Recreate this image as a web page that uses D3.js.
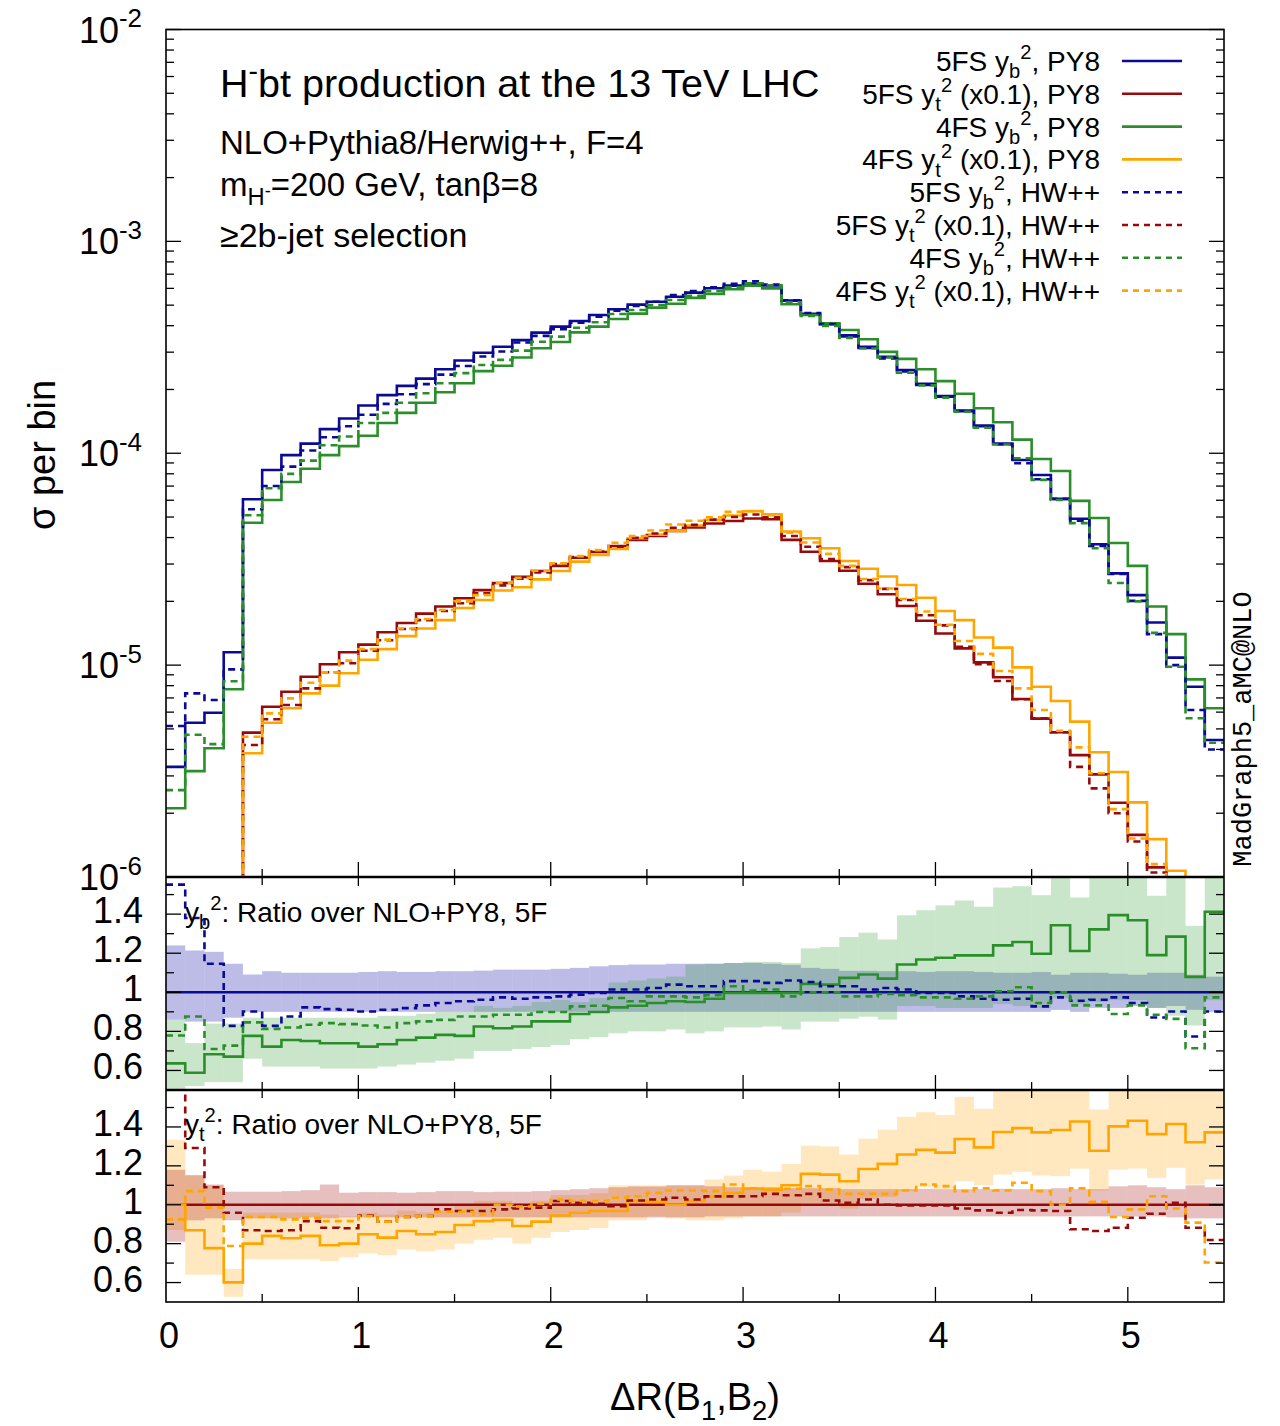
<!DOCTYPE html>
<html><head><meta charset="utf-8">
<script src="https://cdn.jsdelivr.net/npm/d3@7"></script>
<style>
body{margin:0;background:#fff}
svg{display:block}
text{font-family:"Liberation Sans",Arial,Helvetica,sans-serif;fill:#000}
</style></head>
<body><svg id="chart" width="1280" height="1426"></svg>
<script>
// ---------------- DATA ----------------
const binEdges = d3.range(56).map(i => +(i * 0.1).toFixed(1)); // ΔR bins 0..5.5

// main panel: sigma per bin
const main_5F_yb_PY8 = [3.31e-6,5.35e-6,5.96e-6,1.15e-5,6.07e-5,8.34e-5,9.8e-5,1.11e-4,1.30e-4,1.46e-4,1.68e-4,1.88e-4,2.08e-4,2.25e-4,2.49e-4,2.74e-4,2.98e-4,3.18e-4,3.42e-4,3.71e-4,3.96e-4,4.21e-4,4.49e-4,4.78e-4,5.03e-4,5.19e-4,5.48e-4,5.73e-4,6.01e-4,6.18e-4,6.32e-4,6.05e-4,5.25e-4,4.55e-4,4.08e-4,3.6e-4,3.18e-4,2.85e-4,2.47e-4,2.13e-4,1.86e-4,1.59e-4,1.35e-4,1.11e-4,9.3e-5,7.9e-5,6.09e-5,4.91e-5,3.72e-5,2.71e-5,2.14e-5,1.59e-5,1.085e-5,7.91e-6,4.43e-6];
const main_5F_yt_PY8 = [4e-7,5e-7,5e-7,6e-7,4.80e-6,6.36e-6,7.49e-6,8.82e-6,1.01e-5,1.15e-5,1.25e-5,1.43e-5,1.58e-5,1.75e-5,1.89e-5,2.07e-5,2.26e-5,2.44e-5,2.61e-5,2.78e-5,2.94e-5,3.21e-5,3.42e-5,3.65e-5,3.90e-5,4.07e-5,4.30e-5,4.47e-5,4.66e-5,4.79e-5,4.92e-5,4.88e-5,3.90e-5,3.43e-5,3.10e-5,2.79e-5,2.42e-5,2.16e-5,1.90e-5,1.62e-5,1.41e-5,1.20e-5,1.03e-5,8.76e-6,6.92e-6,5.59e-6,4.82e-6,3.76e-6,3.05e-6,2.24e-6,1.58e-6,1.11e-6,8e-7,6e-7,5e-7];
const main_4F_yb_PY8 = [2.11e-6,3.16e-6,4.05e-6,7.69e-6,4.70e-5,6.02e-5,7.32e-5,8.45e-5,9.8e-5,1.08e-4,1.21e-4,1.39e-4,1.55e-4,1.73e-4,1.94e-4,2.14e-4,2.44e-4,2.59e-4,2.83e-4,3.13e-4,3.35e-4,3.72e-4,3.96e-4,4.30e-4,4.56e-4,4.87e-4,5.08e-4,5.41e-4,5.65e-4,5.94e-4,6.18e-4,6.0e-4,5.05e-4,4.49e-4,4.1e-4,3.82e-4,3.45e-4,3.01e-4,2.79e-4,2.49e-4,2.19e-4,1.91e-4,1.63e-4,1.40e-4,1.16e-4,9.40e-5,8.25e-5,5.96e-5,4.95e-5,3.77e-5,2.94e-5,1.89e-5,1.40e-5,8.57e-6,6.26e-6];
const main_4F_yt_PY8 = [4e-7,5e-7,4e-7,3e-7,3.84e-6,5.35e-6,6.26e-6,7.36e-6,8.0e-6,9.15e-6,1.06e-5,1.19e-5,1.37e-5,1.49e-5,1.63e-5,1.86e-5,2.03e-5,2.25e-5,2.33e-5,2.54e-5,2.78e-5,3.08e-5,3.31e-5,3.53e-5,3.97e-5,4.13e-5,4.30e-5,4.56e-5,4.85e-5,5.08e-5,5.32e-5,5.15e-5,4.27e-5,3.97e-5,3.56e-5,3.10e-5,2.85e-5,2.62e-5,2.39e-5,2.08e-5,1.80e-5,1.63e-5,1.35e-5,1.21e-5,9.76e-6,7.91e-6,6.77e-6,5.41e-6,3.88e-6,3.13e-6,2.25e-6,1.51e-6,1.07e-6,7e-7,5e-7];
const main_5F_yb_HW = [5.16e-6,7.36e-6,6.85e-6,9.55e-6,5.44e-5,7.01e-5,8.65e-5,1.03e-4,1.19e-4,1.34e-4,1.52e-4,1.71e-4,1.90e-4,2.12e-4,2.35e-4,2.58e-4,2.86e-4,3.02e-4,3.33e-4,3.58e-4,3.85e-4,4.13e-4,4.41e-4,4.71e-4,4.96e-4,5.19e-4,5.58e-4,5.83e-4,6.07e-4,6.30e-4,6.48e-4,6.25e-4,5.27e-4,4.59e-4,4.07e-4,3.56e-4,3.14e-4,2.80e-4,2.43e-4,2.10e-4,1.85e-4,1.58e-4,1.34e-4,1.10e-4,8.97e-5,7.54e-5,6.09e-5,4.81e-5,3.65e-5,2.69e-5,2.01e-5,1.40e-5,1.0e-5,6.14e-6,4.0e-6];
const main_5F_yt_HW = [8e-7,7e-7,6e-7,5e-7,4.2e-6,5.55e-6,6.48e-6,7.77e-6,9.25e-6,1.02e-5,1.17e-5,1.31e-5,1.48e-5,1.63e-5,1.80e-5,1.96e-5,2.18e-5,2.38e-5,2.56e-5,2.74e-5,3.0e-5,3.24e-5,3.44e-5,3.62e-5,3.99e-5,4.18e-5,4.45e-5,4.59e-5,4.86e-5,5.0e-5,5.14e-5,4.99e-5,4.07e-5,3.62e-5,3.17e-5,2.90e-5,2.52e-5,2.29e-5,2.03e-5,1.72e-5,1.54e-5,1.22e-5,1.01e-5,8.41e-6,6.90e-6,5.61e-6,4.82e-6,3.31e-6,2.62e-6,2.0e-6,1.47e-6,1.05e-6,7e-7,5e-7,4e-7];
const main_4F_yb_HW = [2.57e-6,4.69e-6,4.24e-6,8.39e-6,5.10e-5,6.84e-5,7.99e-5,9.23e-5,1.09e-4,1.20e-4,1.39e-4,1.55e-4,1.73e-4,1.92e-4,2.14e-4,2.39e-4,2.61e-4,2.76e-4,3.05e-4,3.36e-4,3.55e-4,3.91e-4,4.15e-4,4.54e-4,4.74e-4,5.01e-4,5.29e-4,5.53e-4,5.83e-4,6.07e-4,6.34e-4,6.21e-4,5.16e-4,4.45e-4,3.99e-4,3.50e-4,3.12e-4,2.83e-4,2.40e-4,2.09e-4,1.83e-4,1.57e-4,1.32e-4,1.10e-4,9.47e-5,7.49e-5,6.02e-5,4.68e-5,3.56e-5,2.44e-5,2.0e-5,1.42e-5,9.83e-6,5.61e-6,4.30e-6];
const main_4F_yt_HW = [4e-7,5e-7,5e-7,5e-7,4.59e-6,5.92e-6,6.97e-6,8.26e-6,9.25e-6,1.05e-5,1.19e-5,1.32e-5,1.49e-5,1.65e-5,1.82e-5,2.0e-5,2.14e-5,2.44e-5,2.58e-5,2.79e-5,3.02e-5,3.27e-5,3.49e-5,3.78e-5,4.07e-5,4.32e-5,4.61e-5,4.80e-5,4.99e-5,5.29e-5,5.33e-5,5.1e-5,4.22e-5,3.79e-5,3.35e-5,2.94e-5,2.55e-5,2.30e-5,2.05e-5,1.79e-5,1.55e-5,1.30e-5,1.13e-5,9.38e-6,7.77e-6,6.14e-6,4.90e-6,4.09e-6,3.09e-6,2.09e-6,1.52e-6,1.15e-6,8e-7,6e-7,4e-7];

// ratio panel 1 (y_b^2), over NLO+PY8 5F
const ratioRef = binEdges.slice(1).map(() => 1);
const r_yb_4F_PY8 = [0.636,0.588,0.683,0.671,0.777,0.722,0.756,0.751,0.739,0.739,0.722,0.734,0.756,0.768,0.782,0.777,0.825,0.816,0.825,0.851,0.851,0.889,0.899,0.923,0.931,0.945,0.954,0.95,0.967,0.997,0.997,0.997,0.997,1.043,1.039,1.074,1.091,1.07,1.142,1.168,1.177,1.189,1.189,1.24,1.257,1.197,1.343,1.211,1.322,1.395,1.369,1.19,1.285,1.079,1.412];
const r_yb_5F_HW = [1.551,1.38,1.146,0.828,0.902,0.828,0.876,0.923,0.914,0.911,0.902,0.911,0.919,0.933,0.945,0.954,0.962,0.974,0.967,0.974,0.979,0.988,0.997,1.014,1.014,1.022,1.039,1.031,1.031,1.057,1.057,1.048,1.06,1.053,1.031,1.031,1.014,1.022,1.014,0.997,0.997,0.979,0.967,0.962,0.967,0.928,0.974,0.957,0.962,0.974,0.945,0.871,0.902,0.774,0.902];
const r_yb_4F_HW = [0.779,0.876,0.71,0.727,0.846,0.813,0.82,0.834,0.842,0.837,0.83,0.82,0.842,0.851,0.859,0.876,0.876,0.885,0.885,0.899,0.899,0.928,0.931,0.971,0.954,0.979,0.979,0.974,0.985,1.031,1.009,1.014,0.979,1.0,1.0,0.979,0.979,0.991,0.985,0.974,0.974,0.967,0.979,1.005,1.026,0.945,1.0,0.933,0.933,0.889,0.933,0.885,0.864,0.714,0.974];
const band_yb_5F_hi = [1.24,1.214,1.207,1.146,1.091,1.108,1.1,1.1,1.1,1.1,1.104,1.108,1.104,1.104,1.108,1.108,1.111,1.116,1.116,1.116,1.12,1.125,1.133,1.139,1.142,1.142,1.146,1.146,1.146,1.15,1.15,1.146,1.14,1.125,1.12,1.11,1.11,1.108,1.108,1.104,1.108,1.108,1.104,1.1,1.1,1.104,1.09,1.1,1.1,1.095,1.09,1.1,1.1,1.09,1.08];
const band_yb_5F_lo = [0.86,0.85,0.85,0.87,0.9,0.9,0.9,0.9,0.9,0.9,0.9,0.9,0.9,0.9,0.9,0.9,0.9,0.9,0.9,0.9,0.9,0.9,0.9,0.9,0.9,0.9,0.9,0.9,0.9,0.9,0.9,0.9,0.9,0.9,0.9,0.9,0.9,0.9,0.9,0.9,0.9,0.9,0.9,0.9,0.9,0.9,0.91,0.9,0.92,0.92,0.93,0.92,0.93,0.91,0.9];
const band_yb_4F_hi = [0.86,0.74,0.84,0.84,0.87,0.87,0.87,0.87,0.87,0.87,0.87,0.88,0.88,0.89,0.9,0.9,0.93,0.92,0.93,0.95,0.96,0.95,0.97,1.05,1.06,1.07,1.08,1.142,1.146,1.15,1.156,1.156,1.15,1.225,1.232,1.283,1.305,1.27,1.394,1.42,1.445,1.47,1.438,1.536,1.543,1.497,1.7,1.485,1.7,1.7,1.7,1.494,1.7,1.34,1.7];
const band_yb_4F_lo = [0.5,0.52,0.54,0.54,0.66,0.62,0.62,0.62,0.61,0.61,0.61,0.62,0.63,0.64,0.65,0.66,0.7,0.7,0.71,0.72,0.73,0.76,0.77,0.79,0.8,0.8,0.81,0.79,0.8,0.82,0.82,0.825,0.81,0.85,0.85,0.865,0.875,0.86,0.93,0.93,0.92,0.92,0.92,0.94,0.93,0.92,0.97,0.94,0.95,0.96,0.96,0.92,0.88,0.83,0.96];

// ratio panel 2 (y_t^2), over NLO+PY8 5F
const r_yt_4F_PY8 = [1.0,0.869,0.777,0.601,0.80,0.84,0.828,0.84,0.792,0.80,0.848,0.831,0.865,0.848,0.86,0.896,0.916,0.922,0.891,0.913,0.945,0.959,0.968,0.968,1.019,1.015,1.0,1.02,1.041,1.061,1.082,1.078,1.10,1.159,1.155,1.121,1.184,1.21,1.258,1.282,1.268,1.338,1.295,1.374,1.394,1.372,1.384,1.428,1.278,1.403,1.432,1.363,1.415,1.321,1.372];
const r_yt_5F_HW = [1.9,1.292,1.09,0.959,0.869,0.865,0.869,0.916,0.882,0.879,0.945,0.913,0.937,0.942,0.976,0.968,0.968,0.976,0.981,0.985,1.019,1.01,1.005,0.993,1.022,1.027,1.036,1.027,1.043,1.043,1.044,1.056,1.049,1.056,1.022,1.01,1.027,1.0,0.997,0.997,0.997,0.981,0.971,0.959,0.973,0.971,0.968,0.874,0.865,0.882,0.933,0.954,1.01,0.882,0.819];
const r_yt_4F_HW = [0.925,1.07,0.985,0.788,0.937,0.937,0.925,0.933,0.916,0.916,0.942,0.913,0.937,0.942,0.964,0.964,0.95,1.0,0.991,1.005,1.027,1.019,1.019,1.036,1.044,1.061,1.073,1.073,1.07,1.104,1.084,1.078,1.082,1.096,1.078,1.056,1.056,1.056,1.073,1.104,1.096,1.07,1.084,1.073,1.113,1.07,1.0,1.084,1.015,0.937,0.976,1.044,0.981,0.908,0.703];
const band_yt_5F_hi = [1.18,1.152,1.104,1.067,1.067,1.067,1.07,1.075,1.104,1.062,1.065,1.065,1.062,1.065,1.07,1.07,1.065,1.067,1.067,1.07,1.075,1.08,1.085,1.09,1.094,1.094,1.1,1.1,1.095,1.09,1.09,1.09,1.085,1.085,1.085,1.08,1.08,1.08,1.08,1.082,1.08,1.08,1.08,1.082,1.08,1.08,1.085,1.08,1.08,1.095,1.1,1.09,1.08,1.1,1.09];
const band_yt_5F_lo = [0.81,0.92,0.93,0.92,0.93,0.93,0.93,0.935,0.93,0.935,0.935,0.935,0.935,0.935,0.935,0.935,0.935,0.935,0.935,0.935,0.935,0.935,0.935,0.935,0.935,0.935,0.935,0.935,0.94,0.94,0.94,0.94,0.94,0.94,0.94,0.94,0.94,0.94,0.94,0.94,0.94,0.94,0.94,0.94,0.94,0.94,0.94,0.94,0.94,0.94,0.94,0.94,0.935,0.93,0.93];
const band_yt_4F_hi = [1.334,1.152,1.1,0.67,0.96,0.96,0.96,0.96,0.95,0.94,0.96,0.95,0.97,0.96,0.97,1.0,1.02,1.02,1.0,1.02,1.05,1.05,1.06,1.1,1.1,1.1,1.1,1.1,1.13,1.15,1.18,1.17,1.21,1.304,1.3,1.258,1.34,1.386,1.452,1.476,1.462,1.555,1.493,1.7,1.7,1.7,1.7,1.7,1.49,1.7,1.7,1.7,1.7,1.7,1.7];
const band_yt_4F_lo = [0.87,0.64,0.64,0.527,0.72,0.72,0.72,0.72,0.71,0.73,0.75,0.74,0.77,0.76,0.77,0.8,0.82,0.83,0.8,0.83,0.86,0.87,0.88,0.92,0.92,0.94,0.93,0.92,0.92,0.93,0.94,0.94,0.96,1.01,1.01,0.98,1.03,1.04,1.07,1.09,1.08,1.12,1.1,1.155,1.169,1.15,1.147,1.186,1.073,1.18,1.186,1.138,1.19,1.104,1.13];

// tick labels
const xTickLabels = ["0","1","2","3","4","5"];
const yMainTickLabels = ["-6","-5","-4","-3","-2"];
const ratioTickLabels = ["0.6","0.8","1","1.2","1.4"];

// ---------------- STYLE ----------------
const C = {blue:"#0a0a96", red:"#980a0a", green:"#2a8f2a", orange:"#ffa500"};
const LW = 2.6, DASH = "7,5";

// ---------------- SCALES ----------------
const svg = d3.select("#chart");
const L = 166, R = 1224;
const x = d3.scaleLinear().domain([0, 5.5]).range([L, R]);
const yMain = d3.scaleLog().domain([1e-6, 1e-2]).range([877, 29.5]);
const yR1 = d3.scaleLinear().domain([0.5, 1.59]).range([1090, 877]);
const yR2 = d3.scaleLinear().domain([0.5, 1.59]).range([1302, 1090]);

const defs = svg.append("defs");
function clip(id, y0, y1) {
  defs.append("clipPath").attr("id", id).append("rect")
    .attr("x", L).attr("y", y0).attr("width", R - L).attr("height", y1 - y0);
}
clip("cm", 29.5, 877); clip("c1", 877, 1090); clip("c2", 1090, 1302);

function stepPts(vals) {
  const p = vals.map((v, i) => [binEdges[i], v]);
  p.push([binEdges[binEdges.length - 1], vals[vals.length - 1]]);
  return p;
}
function drawStep(g, vals, y, color, dashed) {
  const line = d3.line().x(d => x(d[0])).y(d => y(d[1])).curve(d3.curveStepAfter);
  g.append("path").attr("d", line(stepPts(vals))).attr("fill", "none")
    .attr("stroke", color).attr("stroke-width", LW)
    .attr("stroke-dasharray", dashed ? DASH : null);
}
function drawBand(g, lo, hi, y, color, op) {
  g.append("g").selectAll("rect").data(lo).join("rect")
    .attr("x", (d, i) => x(binEdges[i]))
    .attr("width", (d, i) => x(binEdges[i + 1]) - x(binEdges[i]))
    .attr("y", (d, i) => y(hi[i]))
    .attr("height", (d, i) => y(lo[i]) - y(hi[i]))
    .attr("fill", color).attr("fill-opacity", op);
}

// ---------------- BANDS & LINES ----------------
const g1 = svg.append("g").attr("clip-path", "url(#c1)");
drawBand(g1, band_yb_5F_lo, band_yb_5F_hi, yR1, "#2020b0", 0.3);
drawBand(g1, band_yb_4F_lo, band_yb_4F_hi, yR1, "#2a9a2a", 0.25);
drawStep(g1, ratioRef, yR1, C.blue, false);
drawStep(g1, r_yb_4F_PY8, yR1, C.green, false);
drawStep(g1, r_yb_5F_HW, yR1, C.blue, true);
drawStep(g1, r_yb_4F_HW, yR1, C.green, true);

const g2 = svg.append("g").attr("clip-path", "url(#c2)");
drawBand(g2, band_yt_4F_lo, band_yt_4F_hi, yR2, "#ffa500", 0.25);
drawBand(g2, band_yt_5F_lo, band_yt_5F_hi, yR2, "#a00000", 0.25);
drawStep(g2, ratioRef, yR2, C.red, false);
drawStep(g2, r_yt_4F_PY8, yR2, C.orange, false);
drawStep(g2, r_yt_5F_HW, yR2, C.red, true);
drawStep(g2, r_yt_4F_HW, yR2, C.orange, true);

const gm = svg.append("g").attr("clip-path", "url(#cm)");
drawStep(gm, main_5F_yb_PY8, yMain, C.blue, false);
drawStep(gm, main_5F_yt_PY8, yMain, C.red, false);
drawStep(gm, main_4F_yb_PY8, yMain, C.green, false);
drawStep(gm, main_4F_yt_PY8, yMain, C.orange, false);
drawStep(gm, main_5F_yb_HW, yMain, C.blue, true);
drawStep(gm, main_5F_yt_HW, yMain, C.red, true);
drawStep(gm, main_4F_yb_HW, yMain, C.green, true);
drawStep(gm, main_4F_yt_HW, yMain, C.orange, true);

// ---------------- FRAMES & TICKS ----------------
const axG = svg.append("g").attr("stroke", "#000").attr("fill", "none");
function tick(x1, y1, x2, y2, w) {
  axG.append("line").attr("x1", x1).attr("y1", y1).attr("x2", x2).attr("y2", y2).attr("stroke-width", w || 1.3);
}
// main y ticks (log)
yMain.ticks().forEach(v => {
  const major = Math.abs(Math.log10(v) - Math.round(Math.log10(v))) < 1e-6;
  const len = major ? 15 : 8;
  const yy = yMain(v);
  tick(L, yy, L + len, yy); tick(R, yy, R - len, yy);
});
// ratio y ticks
[yR1, yR2].forEach(ys => {
  ys.ticks(10).filter(v => v > 0.55 && v < 1.55).forEach(v => {
    const k = Math.round(v * 10);
    const len = (k % 2 === 0) ? 15 : 8;
    tick(L, ys(v), L + len, ys(v)); tick(R, ys(v), R - len, ys(v));
  });
});
// x ticks on each panel
const xMajor = x.ticks(5);
const xMinor = d3.range(0.5, 5.5, 1);
[[877, -1], [1090, -1], [1302, -1], [877, 1], [1090, 1]].forEach(([yy, dir]) => {
  xMajor.forEach(v => { if (v > 0) tick(x(v), yy, x(v), yy + dir * (dir < 0 ? 15 : 9)); });
  xMinor.forEach(v => tick(x(v), yy, x(v), yy + dir * 8));
});
// frames
axG.append("rect").attr("x", L).attr("y", 29.5).attr("width", R - L).attr("height", 1302 - 29.5).attr("stroke-width", 1.6);
tick(L, 877, R, 877, 2.4); tick(L, 1090, R, 1090, 2.4);

// ---------------- TEXT ----------------
function rich(g, xx, yy, parts, size, anchor, extra) {
  const t = g.append("text").attr("x", xx).attr("y", yy).attr("font-size", size)
    .attr("text-anchor", anchor || "start");
  if (extra) t.attr("transform", extra);
  let off = 0;
  parts.forEach(p => {
    const [s, kind] = typeof p === "string" ? [p, "n"] : p;
    let target = 0, fs = size;
    if (kind === "sub") { target = 0.26 * size; fs = 0.72 * size; }
    if (kind === "sup") { target = -0.42 * size; fs = 0.72 * size; }
    if (kind === "subsup") { target = 0.02 * size; fs = 0.55 * size; }
    t.append("tspan").attr("dy", target - off).attr("font-size", fs).text(s);
    off = target;
  });
  return t;
}
const tg = svg.append("g");

// y main labels
[1e-6, 1e-5, 1e-4, 1e-3, 1e-2].forEach((v, i) => {
  rich(tg, 142, yMain(v) + 13, ["10", [yMainTickLabels[i], "sup"]], 36, "end");
});
// ratio labels
[0.6, 0.8, 1.0, 1.2, 1.4].forEach((v, i) => {
  tg.append("text").attr("x", 143).attr("y", yR1(v) + 9).attr("font-size", 36).attr("text-anchor", "end").text(ratioTickLabels[i]);
  tg.append("text").attr("x", 143).attr("y", yR2(v) + 9).attr("font-size", 36).attr("text-anchor", "end").text(ratioTickLabels[i]);
});
// x labels
xMajor.forEach((v, i) => {
  tg.append("text").attr("x", x(v) + 3).attr("y", 1348).attr("font-size", 36).attr("text-anchor", "middle").text(xTickLabels[i]);
});
// axis titles
rich(tg, 695, 1410, ["ΔR(B", ["1", "sub"], ",B", ["2", "sub"], ")"], 38, "middle");
tg.append("text").attr("transform", "translate(55,455) rotate(-90)").attr("font-size", 38)
  .attr("text-anchor", "middle").text("σ per bin");
tg.append("text").attr("transform", "translate(1251,729) rotate(-90)").attr("font-size", 27)
  .attr("text-anchor", "middle").style("font-family", "'Liberation Mono','DejaVu Sans Mono',monospace").text("MadGraph5_aMC@NLO");

// in-plot labels
rich(tg, 220, 97, ["H", ["-", "sup"], "bt production at the 13 TeV LHC"], 39.5);
tg.append("text").attr("x", 220).attr("y", 154).attr("font-size", 33).text("NLO+Pythia8/Herwig++, F=4");
rich(tg, 220, 196, ["m", ["H", "sub"], ["-", "subsup"], "=200 GeV, tanβ=8"], 33);
tg.append("text").attr("x", 220).attr("y", 247).attr("font-size", 34).text("≥2b-jet selection");

rich(tg, 185, 922, ["y", ["b", "sub"], ["2", "sup"], ": Ratio over NLO+PY8, 5F"], 28);
rich(tg, 185, 1134, ["y", ["t", "sub"], ["2", "sup"], ": Ratio over NLO+PY8, 5F"], 28);

// legend
const legend = [
  {a:"5FS y", s:"b", b:", PY8", c:C.blue, d:false},
  {a:"5FS y", s:"t", b:" (x0.1), PY8", c:C.red, d:false},
  {a:"4FS y", s:"b", b:", PY8", c:C.green, d:false},
  {a:"4FS y", s:"t", b:" (x0.1), PY8", c:C.orange, d:false},
  {a:"5FS y", s:"b", b:", HW++", c:C.blue, d:true},
  {a:"5FS y", s:"t", b:" (x0.1), HW++", c:C.red, d:true},
  {a:"4FS y", s:"b", b:", HW++", c:C.green, d:true},
  {a:"4FS y", s:"t", b:" (x0.1), HW++", c:C.orange, d:true}
];
legend.forEach((e, i) => {
  const yy = 61 + i * 32.8;
  rich(tg, 1100, yy + 10, [e.a, [e.s, "sub"], ["2", "sup"], e.b], 28, "end");
  tg.append("line").attr("x1", 1122).attr("x2", 1182).attr("y1", yy).attr("y2", yy)
    .attr("stroke", e.c).attr("stroke-width", LW).attr("stroke-dasharray", e.d ? "6,5" : null);
});
</script></body></html>
